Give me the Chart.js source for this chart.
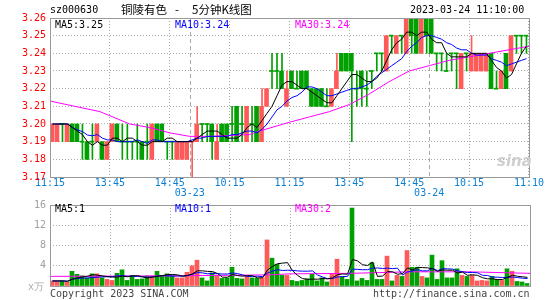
<!DOCTYPE html>
<html>
<head>
<meta charset="utf-8">
<script src="https://cdn.jsdelivr.net/npm/chart.js@4.4.0/dist/chart.umd.min.js"></script>
<style>
body { margin: 0; background: #fff; width: 545px; height: 300px; position: relative; overflow: hidden; font-family: "DejaVu Sans Mono", monospace; font-size: 10px; }
.t { position: absolute; white-space: nowrap; line-height: 10px; }
.cn { font-family: "Noto Sans CJK SC"; font-size: 11.5px; line-height: 14px; color: #000; top: 2px; }
#c1 { position: absolute; left: 0; top: 0; }
#c2 { position: absolute; left: 0; top: 195px; }
</style>
</head>
<body>
<canvas id="c1" width="545" height="200" style="width:545px;height:200px"></canvas>
<canvas id="c2" width="545" height="105" style="width:545px;height:105px"></canvas>

<div class="t" style="left:50px;top:5px;color:#000">sz000630</div>
<div class="t cn" style="left:121px">铜陵有色</div>
<div class="t cn" style="left:175px">-</div>
<div class="t cn" style="left:192px">5分钟K线图</div>
<div class="t" style="left:410px;top:5px;color:#000">2023-03-24 11:10:00</div>
<div class="t" style="left:55px;top:20px;color:#000">MA5:3.25</div>
<div class="t" style="left:175px;top:20px;color:#0000ff">MA10:3.24</div>
<div class="t" style="left:295px;top:20px;color:#ff00ff">MA30:3.24</div>
<div class="t" style="left:497px;top:153px;color:#cfcfcf;font-family:'DejaVu Sans';font-style:italic;font-weight:bold;font-size:15px;line-height:16px">sina</div>
<div class="t" style="left:55px;top:204px;color:#000">MA5:1</div>
<div class="t" style="left:175px;top:204px;color:#0000ff">MA10:1</div>
<div class="t" style="left:295px;top:204px;color:#ff00ff">MA30:2</div>
<div class="t" style="left:28px;top:282px;color:#aaa">x万</div>
<div class="t" style="left:50px;top:289px;color:#444">Copyright 2023 SINA.COM</div>
<div class="t" style="left:373px;top:289px;color:#444">http://finance.sina.com.cn</div>

<script>
// 5分钟K线：03-22 11:15 到 03-24 11:10，共96根
const open = [
  3.19,3.19,3.20,3.19,3.20,3.20,3.19,3.19,3.19,3.19,
  3.19,3.18,3.19,3.20,3.19,3.19,3.19,3.19,3.19,3.19,
  3.18,3.20,3.20,3.19,3.19,3.18,3.18,3.18,3.19,3.19,
  3.20,3.20,3.20,3.18,3.20,3.20,3.20,3.21,3.20,3.19,
  3.20,3.21,3.19,3.21,3.23,3.23,3.23,3.21,3.23,3.22,
  3.23,3.23,3.22,3.22,3.22,3.21,3.21,3.22,3.24,3.24,
  3.24,3.22,3.23,3.22,3.23,3.24,3.24,3.23,3.25,3.24,
  3.25,3.24,3.26,3.26,3.24,3.26,3.26,3.24,3.24,3.23,
  3.24,3.24,3.22,3.24,3.23,3.23,3.23,3.23,3.24,3.22,
  3.22,3.24,3.23,3.25,3.25,3.25
];
const close = [
  3.20,3.20,3.20,3.20,3.19,3.19,3.19,3.18,3.19,3.20,
  3.18,3.19,3.20,3.19,3.19,3.19,3.19,3.19,3.18,3.19,
  3.20,3.19,3.19,3.19,3.19,3.19,3.19,3.19,3.19,3.20,
  3.20,3.20,3.19,3.19,3.19,3.19,3.20,3.19,3.20,3.21,
  3.20,3.19,3.21,3.22,3.23,3.23,3.22,3.22,3.22,3.22,
  3.22,3.22,3.21,3.21,3.21,3.21,3.22,3.23,3.23,3.23,
  3.23,3.22,3.22,3.22,3.23,3.24,3.24,3.25,3.25,3.25,
  3.25,3.26,3.25,3.24,3.26,3.25,3.24,3.24,3.24,3.23,
  3.24,3.24,3.24,3.24,3.24,3.24,3.24,3.24,3.22,3.22,
  3.23,3.22,3.25,3.25,3.25,3.25
];
const high = [
  3.20,3.20,3.20,3.20,3.20,3.20,3.20,3.19,3.20,3.20,
  3.19,3.19,3.20,3.20,3.20,3.20,3.19,3.20,3.19,3.20,
  3.20,3.20,3.20,3.19,3.19,3.19,3.19,3.19,3.19,3.21,
  3.20,3.20,3.20,3.20,3.20,3.20,3.21,3.21,3.21,3.21,
  3.21,3.21,3.22,3.22,3.24,3.24,3.24,3.23,3.23,3.23,
  3.23,3.23,3.22,3.22,3.22,3.22,3.22,3.24,3.24,3.24,
  3.24,3.23,3.23,3.23,3.23,3.24,3.24,3.25,3.25,3.25,
  3.25,3.26,3.26,3.26,3.26,3.26,3.26,3.24,3.24,3.24,
  3.24,3.24,3.24,3.24,3.25,3.24,3.24,3.24,3.24,3.23,
  3.23,3.24,3.25,3.25,3.25,3.25
];
const low = [
  3.19,3.19,3.19,3.19,3.19,3.19,3.18,3.18,3.18,3.19,
  3.18,3.18,3.19,3.19,3.18,3.18,3.18,3.18,3.18,3.18,
  3.18,3.19,3.19,3.18,3.18,3.18,3.18,3.18,3.17,3.19,
  3.19,3.19,3.18,3.18,3.19,3.19,3.19,3.19,3.19,3.19,
  3.19,3.19,3.19,3.21,3.22,3.22,3.22,3.21,3.22,3.22,
  3.22,3.22,3.21,3.21,3.21,3.21,3.21,3.22,3.23,3.23,
  3.19,3.21,3.21,3.21,3.22,3.23,3.23,3.23,3.24,3.24,
  3.24,3.24,3.24,3.24,3.24,3.24,3.24,3.23,3.23,3.23,
  3.23,3.22,3.22,3.23,3.23,3.23,3.23,3.23,3.22,3.22,
  3.22,3.22,3.23,3.24,3.24,3.24
];
const redDoji = [28]; // 十字星里画成红色的
// 成交量（万手）
const volume = [
  1.0,1.0,1.0,0.8,2.9,2.3,2.0,1.6,2.4,2.4,
  1.6,1.3,1.1,2.5,3.2,1.1,2.1,1.3,1.4,2.0,
  2.0,2.9,2.0,2.4,2.1,1.6,1.6,2.7,4.0,5.1,
  1.6,1.0,2.6,2.0,1.5,1.6,3.7,1.5,1.4,2.0,
  1.6,1.5,1.6,9.1,5.5,4.3,2.1,2.1,1.1,0.9,
  1.1,1.4,2.3,1.0,1.6,0.8,2.4,5.3,1.8,1.3,
  15.4,1.0,1.5,1.1,4.6,1.3,1.3,5.9,1.0,2.1,
  1.9,7.0,3.7,3.7,1.9,1.6,6.1,1.3,5.0,1.6,
  1.6,3.4,2.1,1.9,2.1,1.0,1.1,1.0,1.9,1.3,
  1.1,3.4,2.9,0.9,0.8,0.5
];
// MA30 读图（需要更早的数据，直接取图上的值）
const ma30At = [0,10,16,20,24,28,32,40,42,48,52,56,60,64,68,72,76,80,84,88,92,96];
const ma30Val = [3.213,3.207,3.200,3.198,3.195,3.193,3.193,3.194,3.196,3.201,3.204,3.207,3.211,3.217,3.224,3.230,3.233,3.236,3.238,3.240,3.242,3.244];
const volMa30At = [0,24,44,48,60,72,84,96];
const volMa30Val = [1.9,2.0,2.2,2.4,2.5,2.8,2.8,2.5];

// 坐标轴刻度
const xTickPos = [0,12,24,28,36,48,60,72,76,84,96];
const xTickText = ["11:15","13:45","14:45",["","03-23"],"10:15","11:15","13:45","14:45",["","03-24"],"10:15","11:10"];
const dayLines = [28,76];
const priceTicks = [3.17,3.18,3.19,3.20,3.21,3.22,3.23,3.24,3.25,3.26];
const volTicks = [0,4,8,12,16];

const RED = "#ff5a5a";
const GREEN = "#00a000";
const monoFont = { family: "DejaVu Sans Mono", size: 10 };

function movAvg(arr, n) {
  return arr.map((_, i) => {
    const s = arr.slice(Math.max(0, i - n + 1), i + 1);
    return s.reduce((a, b) => a + b, 0) / s.length;
  });
}

const isUp = close.map((c, i) => c > open[i] || (c === open[i] && redDoji.includes(i)));
const colOf = (i) => (isUp[i] ? RED : GREEN);

const bodies = [], dojis = [], wicks = [];
close.forEach((c, i) => {
  if (c !== open[i]) bodies.push({ x: i + 0.4, y: [open[i], c], col: colOf(i) });
  else dojis.push({ x: i + 0.4, y: [c - 0.0003, c + 0.0003], col: colOf(i) });
  wicks.push({ x: i + 0.5, y: [low[i], high[i]], col: colOf(i) });
});

const ma5 = movAvg(close, 5).map((v, i) => ({ x: i + 0.5, y: v }));
const ma10 = movAvg(close, 10).map((v, i) => ({ x: i + 0.5, y: v }));
const ma30 = ma30At.map((p, k) => ({ x: p, y: ma30Val[k] }));
const volBars = volume.map((v, i) => ({ x: i + 0.4, y: v, col: colOf(i) }));
const vma5 = movAvg(volume, 5).map((v, i) => ({ x: i + 0.5, y: v }));
const vma10 = movAvg(volume, 10).map((v, i) => ({ x: i + 0.5, y: v }));
const vma30 = volMa30At.map((p, k) => ({ x: p, y: volMa30Val[k] }));

function line(data, color) {
  return { type: "line", data: data, borderColor: color, borderWidth: 1, pointRadius: 0, tension: 0, order: 0 };
}
function bars(data, width, order) {
  return { type: "bar", data: data, barThickness: width, grouped: false, order: order,
    backgroundColor: (ctx) => (ctx.raw ? ctx.raw.col : GREEN) };
}

// 边框 + 日期分隔虚线
const frame = {
  id: "frame",
  beforeDatasetsDraw(chart, args, opts) {
    if (!opts.dayLines) return;
    const { ctx, chartArea: a, scales } = chart;
    ctx.save();
    ctx.strokeStyle = "#aaa";
    ctx.setLineDash([4, 3]);
    dayLines.forEach((d) => {
      const x = Math.round(scales.x.getPixelForValue(d)) + 0.5;
      ctx.beginPath();
      ctx.moveTo(x, a.top);
      ctx.lineTo(x, a.bottom);
      ctx.stroke();
    });
    ctx.restore();
  },
  afterDraw(chart) {
    const { ctx, chartArea: a } = chart;
    ctx.save();
    ctx.strokeStyle = "#999";
    ctx.lineWidth = 1;
    ctx.strokeRect(Math.round(a.left) + 0.5, Math.round(a.top) + 0.5, Math.round(a.right - a.left), Math.round(a.bottom - a.top));
    ctx.restore();
  }
};

const gridDash = { display: false, dash: [1, 2] };

// K线图
new Chart(document.getElementById("c1"), {
  type: "bar",
  data: {
    datasets: [
      line(ma5, "#000000"),
      line(ma10, "#0000ff"),
      line(ma30, "#ff00ff"),
      bars(bodies, 4, 1),
      bars(dojis, 4, 1),
      bars(wicks, 1, 2)
    ]
  },
  options: {
    responsive: false,
    animation: false,
    layout: { padding: { top: 18, right: 15, left: 0, bottom: 0 } },
    plugins: { legend: { display: false }, tooltip: { enabled: false }, frame: { dayLines: true } },
    scales: {
      x: {
        type: "linear", min: 0, max: 96, offset: false,
        afterBuildTicks: (s) => { s.ticks = xTickPos.map((v) => ({ value: v })); },
        afterFit: (s) => { s.height = 23; },
        ticks: {
          autoSkip: false, maxRotation: 0, padding: 1, color: "#0a7fd6", font: { ...monoFont, lineHeight: 1 },
          callback: (v) => xTickText[xTickPos.indexOf(v)]
        },
        grid: { offset: false, drawTicks: false, color: (c) => (c.tick && dayLines.includes(c.tick.value) ? "rgba(0,0,0,0)" : "#aaa") },
        border: gridDash
      },
      y: {
        min: 3.17, max: 3.26,
        afterBuildTicks: (s) => { s.ticks = priceTicks.map((v) => ({ value: v })); },
        afterFit: (s) => { s.width = 50; },
        ticks: { padding: 4, color: "#ff0000", font: monoFont, callback: (v) => v.toFixed(2) },
        grid: { drawTicks: false, color: "#aaa" },
        border: gridDash
      }
    }
  },
  plugins: [frame]
});

// 成交量
new Chart(document.getElementById("c2"), {
  type: "bar",
  data: {
    datasets: [
      line(vma5, "#000000"),
      line(vma10, "#0000ff"),
      line(vma30, "#ff00ff"),
      bars(volBars, 4, 1)
    ]
  },
  options: {
    responsive: false,
    animation: false,
    layout: { padding: { top: 7, right: 15, left: 0, bottom: 0 } },
    plugins: { legend: { display: false }, tooltip: { enabled: false }, frame: { dayLines: false } },
    scales: {
      x: {
        type: "linear", min: 0, max: 96, offset: false,
        afterBuildTicks: (s) => { s.ticks = xTickPos.filter((v) => !dayLines.includes(v)).map((v) => ({ value: v })); },
        afterFit: (s) => { s.height = 14; },
        ticks: { display: false },
        grid: { offset: false, drawTicks: false, color: "#aaa" },
        border: gridDash
      },
      y: {
        min: 0, max: 16,
        afterBuildTicks: (s) => { s.ticks = volTicks.map((v) => ({ value: v })); },
        afterFit: (s) => { s.width = 50; },
        ticks: { padding: 4, color: "#a0a0a0", font: monoFont, callback: (v) => (v === 0 ? "" : String(v)) },
        grid: { drawTicks: false, color: "#aaa" },
        border: gridDash
      }
    }
  },
  plugins: [frame]
});
</script>
</body>
</html>
